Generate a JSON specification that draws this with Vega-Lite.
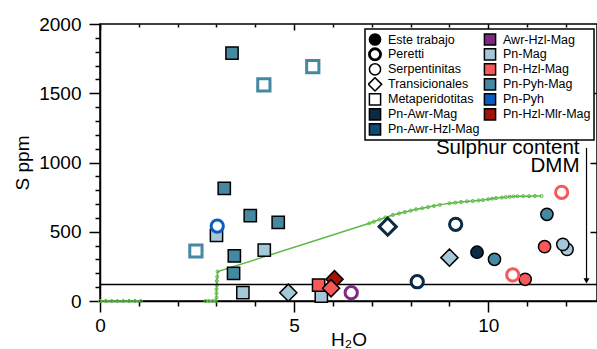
{
  "$schema": "https://vega.github.io/schema/vega-lite/v6.json",
  "width": 497,
  "height": 277,
  "autosize": {"type": "none"},
  "padding": {"left": 100, "top": 24, "right": 0, "bottom": 48},
  "config": {
    "font": "Liberation Sans",
    "view": {"stroke": "black", "strokeWidth": 1.5},
    "axis": {"grid": false, "domainColor": "black", "domainWidth": 1.5, "tickColor": "black", "tickWidth": 1.5, "labelColor": "black", "titleColor": "black", "labelFont": "Liberation Sans", "titleFont": "Liberation Sans"},
    "legend": {"strokeWidth": 1.5, "symbolFillColor": "white"}
  },
  "resolve": {
    "scale": {"shape": "independent", "fill": "independent", "stroke": "independent", "strokeWidth": "independent", "color": "independent"},
    "axis": {"x": "independent", "y": "independent"}
  },
  "layer": [
    {
      "data": {"values": [
        {"serie": "a", "n": 0, "H2O": 0, "S": 0}, {"serie": "a", "n": 1, "H2O": 0.15, "S": 0}, {"serie": "a", "n": 2, "H2O": 0.3, "S": 0}, {"serie": "a", "n": 3, "H2O": 0.45, "S": 0}, {"serie": "a", "n": 4, "H2O": 0.6, "S": 0}, {"serie": "a", "n": 5, "H2O": 0.75, "S": 0}, {"serie": "a", "n": 6, "H2O": 0.9, "S": 0}, {"serie": "a", "n": 7, "H2O": 1.05, "S": 0},
        {"serie": "b", "n": 0, "H2O": 2.72, "S": 0}, {"serie": "b", "n": 1, "H2O": 2.8, "S": 0}, {"serie": "b", "n": 2, "H2O": 2.9, "S": 0}, {"serie": "b", "n": 3, "H2O": 2.98, "S": 0},
        {"serie": "b", "n": 4, "H2O": 3.0, "S": 25}, {"serie": "b", "n": 5, "H2O": 3.0, "S": 55}, {"serie": "b", "n": 6, "H2O": 3.0, "S": 85}, {"serie": "b", "n": 7, "H2O": 3.01, "S": 115}, {"serie": "b", "n": 8, "H2O": 3.01, "S": 145}, {"serie": "b", "n": 9, "H2O": 3.02, "S": 175}, {"serie": "b", "n": 10, "H2O": 3.03, "S": 212},
        {"serie": "b", "n": 11, "H2O": 6.94, "S": 561}, {"serie": "b", "n": 12, "H2O": 7.05, "S": 572}, {"serie": "b", "n": 13, "H2O": 7.2, "S": 588}, {"serie": "b", "n": 14, "H2O": 7.35, "S": 603}, {"serie": "b", "n": 15, "H2O": 7.54, "S": 621}, {"serie": "b", "n": 16, "H2O": 7.7, "S": 632}, {"serie": "b", "n": 17, "H2O": 7.85, "S": 642}, {"serie": "b", "n": 18, "H2O": 8.0, "S": 652}, {"serie": "b", "n": 19, "H2O": 8.14, "S": 662}, {"serie": "b", "n": 20, "H2O": 8.3, "S": 670}, {"serie": "b", "n": 21, "H2O": 8.45, "S": 678}, {"serie": "b", "n": 22, "H2O": 8.6, "S": 686}, {"serie": "b", "n": 23, "H2O": 8.75, "S": 694}, {"serie": "b", "n": 24, "H2O": 9.0, "S": 705}, {"serie": "b", "n": 25, "H2O": 9.15, "S": 710}, {"serie": "b", "n": 26, "H2O": 9.3, "S": 715}, {"serie": "b", "n": 27, "H2O": 9.45, "S": 719}, {"serie": "b", "n": 28, "H2O": 9.6, "S": 722}, {"serie": "b", "n": 29, "H2O": 9.75, "S": 726}, {"serie": "b", "n": 30, "H2O": 9.86, "S": 729}, {"serie": "b", "n": 31, "H2O": 10.0, "S": 735}, {"serie": "b", "n": 32, "H2O": 10.1, "S": 739}, {"serie": "b", "n": 33, "H2O": 10.2, "S": 743}, {"serie": "b", "n": 34, "H2O": 10.35, "S": 747}, {"serie": "b", "n": 35, "H2O": 10.45, "S": 750}, {"serie": "b", "n": 36, "H2O": 10.55, "S": 753}, {"serie": "b", "n": 37, "H2O": 10.65, "S": 755}, {"serie": "b", "n": 38, "H2O": 10.75, "S": 756}, {"serie": "b", "n": 39, "H2O": 10.9, "S": 757}, {"serie": "b", "n": 40, "H2O": 11.05, "S": 757}, {"serie": "b", "n": 41, "H2O": 11.2, "S": 758}, {"serie": "b", "n": 42, "H2O": 11.37, "S": 758}
      ]},
      "mark": {"type": "line", "color": "#5cb947", "strokeWidth": 1.5, "point": {"filled": false, "size": 10, "color": "#5cb947", "strokeWidth": 1}},
      "encoding": {
        "x": {"field": "H2O", "type": "quantitative", "scale": {"domain": [0, 12.8], "nice": false, "zero": false},
          "axis": {"values": [0, 1, 2, 3, 4, 5, 6, 7, 8, 9, 10, 11, 12], "labelExpr": "datum.value % 5 === 0 ? datum.label : ''", "tickSize": {"condition": {"test": "datum.value % 5 === 0", "value": 11}, "value": 5}, "labelFontSize": 19, "labelPadding": 4, "labelFlush": false, "labelOverlap": false, "title": "H₂O", "titleFontSize": 19, "titleFontWeight": "normal", "titlePadding": -5}},
        "y": {"field": "S", "type": "quantitative", "scale": {"domain": [0, 2000], "nice": false},
          "axis": {"values": [0, 100, 200, 300, 400, 500, 600, 700, 800, 900, 1000, 1100, 1200, 1300, 1400, 1500, 1600, 1700, 1800, 1900, 2000], "format": "d", "labelExpr": "datum.value % 500 === 0 ? datum.label : ''", "tickSize": {"condition": {"test": "datum.value % 500 === 0", "value": 11}, "value": 5}, "labelFontSize": 19, "labelPadding": 8, "labelFlush": false, "labelOverlap": false, "title": "S ppm", "titleFontSize": 19, "titleFontWeight": "normal", "titlePadding": 6}},
        "detail": {"field": "serie"},
        "order": {"field": "n"}
      }
    },
    {
      "data": {"values": [{"S": 120}]},
      "mark": {"type": "rule", "color": "black", "strokeWidth": 1.5},
      "encoding": {
        "y": {"field": "S", "type": "quantitative", "axis": {"orient": "right", "labels": false, "title": null, "domain": false, "values": [500, 1000, 1500], "tickSize": -7}}
      }
    },
    {
      "data": {"values": [{"H2O": 12.53, "S": 1105, "S2": 140}]},
      "mark": {"type": "rule", "color": "black", "strokeWidth": 1.2},
      "encoding": {
        "x": {"field": "H2O", "type": "quantitative", "axis": {"orient": "top", "labels": false, "title": null, "domain": false, "values": [0, 1, 2, 3, 4, 5, 6, 7, 8, 9, 10, 11, 12], "tickSize": {"condition": {"test": "datum.value % 5 === 0", "value": -6}, "value": -3}}},
        "y": {"field": "S", "type": "quantitative", "axis": null},
        "y2": {"field": "S2"}
      }
    },
    {
      "data": {"values": [{"H2O": 12.53, "S": 145}]},
      "mark": {"type": "point", "shape": "triangle-down", "filled": true, "color": "black", "size": 36, "opacity": 1},
      "encoding": {
        "x": {"field": "H2O", "type": "quantitative", "axis": null},
        "y": {"field": "S", "type": "quantitative", "axis": null}
      }
    },
    {
      "data": {"values": [{"H2O": 12.35, "S": 1061, "t": "Sulphur content"}, {"H2O": 12.35, "S": 934, "t": "DMM"}]},
      "mark": {"type": "text", "align": "right", "baseline": "alphabetic", "fontSize": 20.5, "font": "Liberation Sans", "color": "black"},
      "encoding": {
        "x": {"field": "H2O", "type": "quantitative", "axis": null},
        "y": {"field": "S", "type": "quantitative", "axis": null},
        "text": {"field": "t"}
      }
    },
    {
      "data": {"values": [
        {"roca": "Metaperidotitas", "asoc": "Pn-Pyh-Mag", "H2O": 3.40, "S": 1790},
        {"roca": "Metaperidotitas", "asoc": "Pn-Pyh-Mag", "H2O": 3.20, "S": 814},
        {"roca": "Metaperidotitas", "asoc": "Pn-Pyh-Mag", "H2O": 3.87, "S": 616},
        {"roca": "Metaperidotitas", "asoc": "Pn-Pyh-Mag", "H2O": 4.59, "S": 568},
        {"roca": "Metaperidotitas", "asoc": "Pn-Pyh-Mag", "H2O": 3.46, "S": 325},
        {"roca": "Metaperidotitas", "asoc": "Pn-Pyh-Mag", "H2O": 3.44, "S": 200},
        {"roca": "Metaperidotitas", "asoc": "Pn-Mag", "H2O": 3.00, "S": 474},
        {"roca": "Metaperidotitas", "asoc": "Pn-Mag", "H2O": 4.23, "S": 368},
        {"roca": "Metaperidotitas", "asoc": "Pn-Mag", "H2O": 3.68, "S": 60},
        {"roca": "Metaperidotitas", "asoc": "Pn-Mag", "H2O": 5.70, "S": 36},
        {"roca": "Metaperidotitas", "asoc": "Pn-Hzl-Mag", "H2O": 5.63, "S": 115},
        {"roca": "Transicionales", "asoc": "Pn-Mag", "H2O": 4.85, "S": 60},
        {"roca": "Transicionales", "asoc": "Pn-Mag", "H2O": 9.00, "S": 313},
        {"roca": "Transicionales", "asoc": "Pn-Hzl-Mlr-Mag", "H2O": 6.04, "S": 157},
        {"roca": "Transicionales", "asoc": "Pn-Hzl-Mag", "H2O": 5.95, "S": 92},
        {"roca": "Serpentinitas", "asoc": "Pn-Awr-Mag", "H2O": 9.71, "S": 352},
        {"roca": "Serpentinitas", "asoc": "Pn-Pyh-Mag", "H2O": 10.16, "S": 301},
        {"roca": "Serpentinitas", "asoc": "Pn-Pyh-Mag", "H2O": 11.51, "S": 626},
        {"roca": "Serpentinitas", "asoc": "Pn-Hzl-Mag", "H2O": 10.95, "S": 157},
        {"roca": "Serpentinitas", "asoc": "Pn-Hzl-Mag", "H2O": 11.45, "S": 392},
        {"roca": "Serpentinitas", "asoc": "Pn-Mag", "H2O": 12.03, "S": 373},
        {"roca": "Serpentinitas", "asoc": "Pn-Mag", "H2O": 11.92, "S": 409}
      ]},
      "mark": {"type": "point", "filled": true, "stroke": "black", "strokeWidth": 1.5, "size": 150, "opacity": 1},
      "encoding": {
        "x": {"field": "H2O", "type": "quantitative", "axis": null},
        "y": {"field": "S", "type": "quantitative", "axis": null},
        "shape": {"field": "roca", "type": "nominal", "legend": null, "scale": {"domain": ["Serpentinitas", "Transicionales", "Metaperidotitas"], "range": ["circle", "M-1.4,0L0,-1.4L1.4,0L0,1.4Z", "square"]}},
        "fill": {"field": "asoc", "type": "nominal", "legend": null, "scale": {"domain": ["Pn-Awr-Mag", "Pn-Awr-Hzl-Mag", "Awr-Hzl-Mag", "Pn-Mag", "Pn-Hzl-Mag", "Pn-Pyh-Mag", "Pn-Pyh", "Pn-Hzl-Mlr-Mag"], "range": ["#0a2a45", "#0b4d74", "#7e2a82", "#a3c8d8", "#f95858", "#4588a2", "#0a5cc0", "#a11308"]}}
      }
    },
    {
      "data": {"values": [
        {"roca": "Serpentinitas", "asoc": "Pn-Pyh", "H2O": 3.02, "S": 541},
        {"roca": "Serpentinitas", "asoc": "Awr-Hzl-Mag", "H2O": 6.47, "S": 60},
        {"roca": "Serpentinitas", "asoc": "Pn-Awr-Mag", "H2O": 9.16, "S": 554},
        {"roca": "Serpentinitas", "asoc": "Pn-Awr-Mag", "H2O": 8.17, "S": 139},
        {"roca": "Serpentinitas", "asoc": "Pn-Hzl-Mag", "H2O": 10.63, "S": 188},
        {"roca": "Serpentinitas", "asoc": "Pn-Hzl-Mag", "H2O": 11.89, "S": 785},
        {"roca": "Metaperidotitas", "asoc": "Pn-Pyh-Mag", "H2O": 4.22, "S": 1560},
        {"roca": "Metaperidotitas", "asoc": "Pn-Pyh-Mag", "H2O": 5.48, "S": 1692},
        {"roca": "Metaperidotitas", "asoc": "Pn-Pyh-Mag", "H2O": 2.47, "S": 361},
        {"roca": "Transicionales", "asoc": "Pn-Awr-Mag", "H2O": 7.41, "S": 537}
      ]},
      "mark": {"type": "point", "filled": false, "fill": "white", "strokeWidth": 3, "size": 150, "opacity": 1},
      "encoding": {
        "x": {"field": "H2O", "type": "quantitative", "axis": null},
        "y": {"field": "S", "type": "quantitative", "axis": null},
        "shape": {"field": "roca", "type": "nominal", "legend": null, "scale": {"domain": ["Serpentinitas", "Transicionales", "Metaperidotitas"], "range": ["circle", "M-1.4,0L0,-1.4L1.4,0L0,1.4Z", "square"]}},
        "stroke": {"field": "asoc", "type": "nominal", "legend": null, "scale": {"domain": ["Pn-Awr-Mag", "Pn-Awr-Hzl-Mag", "Awr-Hzl-Mag", "Pn-Mag", "Pn-Hzl-Mag", "Pn-Pyh-Mag", "Pn-Pyh", "Pn-Hzl-Mlr-Mag"], "range": ["#0a2a45", "#0b4d74", "#7e2a82", "#a3c8d8", "#f95858", "#4588a2", "#0a5cc0", "#a11308"]}}
      }
    },
    {
      "data": {"values": [
        {"leyenda": "Este trabajo"}, {"leyenda": "Peretti"}, {"leyenda": "Serpentinitas"}, {"leyenda": "Transicionales"}, {"leyenda": "Metaperidotitas"}, {"leyenda": "Pn-Awr-Mag"}, {"leyenda": "Pn-Awr-Hzl-Mag"},
        {"leyenda": "Awr-Hzl-Mag"}, {"leyenda": "Pn-Mag"}, {"leyenda": "Pn-Hzl-Mag"}, {"leyenda": "Pn-Pyh-Mag"}, {"leyenda": "Pn-Pyh"}, {"leyenda": "Pn-Hzl-Mlr-Mag"}
      ]},
      "mark": {"type": "point", "filled": true, "stroke": "black", "opacity": 0},
      "encoding": {
        "shape": {"field": "leyenda", "type": "nominal", "legend": {"title": null},
          "scale": {"domain": ["Este trabajo", "Peretti", "Serpentinitas", "Transicionales", "Metaperidotitas", "Pn-Awr-Mag", "Pn-Awr-Hzl-Mag", "Awr-Hzl-Mag", "Pn-Mag", "Pn-Hzl-Mag", "Pn-Pyh-Mag", "Pn-Pyh", "Pn-Hzl-Mlr-Mag"],
            "range": ["circle", "circle", "circle", "M-1.2,0L0,-1.2L1.2,0L0,1.2Z", "square", "square", "square", "square", "square", "square", "square", "square", "square"]}},
        "color": {"field": "leyenda", "type": "nominal",
          "legend": {"title": null, "orient": "none", "legendX": 265, "legendY": 5, "columns": 2, "strokeColor": "black", "fillColor": "white", "padding": 3, "symbolSize": 125, "labelFontSize": 12.5, "labelFont": "Liberation Sans", "labelColor": "black", "rowPadding": 0, "clipHeight": 14.7, "columnPadding": 3, "symbolOpacity": 1, "labelLimit": 300, "labelOffset": 6},
          "scale": {"domain": ["Este trabajo", "Peretti", "Serpentinitas", "Transicionales", "Metaperidotitas", "Pn-Awr-Mag", "Pn-Awr-Hzl-Mag", "Awr-Hzl-Mag", "Pn-Mag", "Pn-Hzl-Mag", "Pn-Pyh-Mag", "Pn-Pyh", "Pn-Hzl-Mlr-Mag"],
            "range": ["black", "white", "white", "white", "white", "#0a2a45", "#0b4d74", "#7e2a82", "#a3c8d8", "#f95858", "#4588a2", "#0a5cc0", "#a11308"]}},
        "strokeWidth": {"field": "leyenda", "type": "nominal", "legend": {"title": null},
          "scale": {"type": "ordinal", "domain": ["Este trabajo", "Peretti", "Serpentinitas", "Transicionales", "Metaperidotitas", "Pn-Awr-Mag", "Pn-Awr-Hzl-Mag", "Awr-Hzl-Mag", "Pn-Mag", "Pn-Hzl-Mag", "Pn-Pyh-Mag", "Pn-Pyh", "Pn-Hzl-Mlr-Mag"],
            "range": [1.5, 2.8, 1.5, 1.5, 1.5, 1.5, 1.5, 1.5, 1.5, 1.5, 1.5, 1.5, 1.5]}}
      }
    }
  ]
}
